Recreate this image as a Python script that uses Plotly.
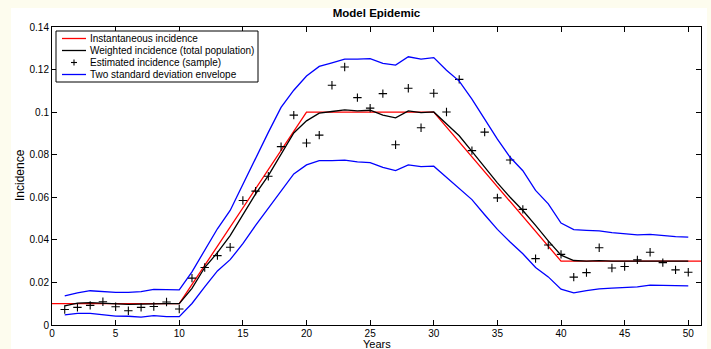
import plotly.graph_objects as go

years = list(range(1, 51))

inst_x = [0, 10, 20, 30, 40, 51]
inst_y = [0.01, 0.01, 0.10, 0.10, 0.03, 0.03]

weighted = [0.0090, 0.0103, 0.0105, 0.0102, 0.0098, 0.0097, 0.0098, 0.0100, 0.0100, 0.0100,
            0.0172, 0.0270, 0.0340, 0.0420, 0.0515, 0.0616, 0.0702, 0.0803, 0.0902, 0.0959,
            0.0995, 0.1003, 0.1011, 0.1006, 0.1009, 0.0986, 0.0973, 0.1006, 0.0998, 0.1001,
            0.0947, 0.0889, 0.0816, 0.0741, 0.0668, 0.0600, 0.0538, 0.0468, 0.0395, 0.0328,
            0.0303, 0.0300, 0.0302, 0.0300, 0.0300, 0.0301, 0.0302, 0.0300, 0.0300, 0.0300]

sample = [0.0073, 0.0083, 0.0092, 0.0109, 0.0086, 0.0067, 0.0083, 0.0087, 0.0108, 0.0075,
          0.0220, 0.0270, 0.0326, 0.0365, 0.0585, 0.0629, 0.0699, 0.0838, 0.0986, 0.0855,
          0.0892, 0.1126, 0.1212, 0.1068, 0.1019, 0.1087, 0.0847, 0.1112, 0.0927, 0.1089,
          0.1001, 0.1154, 0.0819, 0.0906, 0.0597, 0.0775, 0.0543, 0.0312, 0.0376, 0.0332,
          0.0225, 0.0246, 0.0363, 0.0268, 0.0275, 0.0306, 0.0342, 0.0293, 0.0259, 0.0248]

upper = [0.0137, 0.0151, 0.0161, 0.0157, 0.0153, 0.0153, 0.0157, 0.0167, 0.0167, 0.0165,
         0.0250, 0.0351, 0.0452, 0.0538, 0.0663, 0.0788, 0.0905, 0.1022, 0.1103, 0.1170,
         0.1215, 0.1232, 0.1249, 0.1249, 0.1251, 0.1229, 0.1221, 0.1260, 0.1249, 0.1256,
         0.1197, 0.1146, 0.1061, 0.0967, 0.0873, 0.0788, 0.0725, 0.0632, 0.0569, 0.0479,
         0.0448, 0.0445, 0.0442, 0.0434, 0.0429, 0.0423, 0.0426, 0.0420, 0.0415, 0.0413]

lower = [0.0048, 0.0055, 0.0055, 0.0047, 0.0042, 0.0041, 0.0037, 0.0044, 0.0039, 0.0039,
         0.0101, 0.0179, 0.0254, 0.0307, 0.0382, 0.0468, 0.0549, 0.0632, 0.0710, 0.0752,
         0.0772, 0.0772, 0.0775, 0.0766, 0.0763, 0.0741, 0.0725, 0.0752, 0.0744, 0.0746,
         0.0694, 0.0645, 0.0589, 0.0518, 0.0449, 0.0390, 0.0335, 0.0270, 0.0226, 0.0168,
         0.0151, 0.0161, 0.0170, 0.0173, 0.0176, 0.0179, 0.0187, 0.0186, 0.0184, 0.0184]

x_ticks = [0, 5, 10, 15, 20, 25, 30, 35, 40, 45, 50]
y_ticks = [0, 0.02, 0.04, 0.06, 0.08, 0.10, 0.12, 0.14]
y_tick_labels = ["0", "0.02", "0.04", "0.06", "0.08", "0.1", "0.12", "0.14"]

legend_names = ["Instantaneous incidence", "Weighted incidence (total population)",
                "Estimated incidence (sample)", "Two standard deviation envelope"]
legend_colors = ["#ff0000", "#000000", None, "#0000ff"]

FONT = "Liberation Sans, Arial, Helvetica, sans-serif"

W, H = 711, 349
ML, MR, MT, MB = 52, 10, 27, 24
PW, PH = W - ML - MR, H - MT - MB


def px_x(p):
    return (p - ML) / PW


def px_y(p):
    return (H - MB - p) / PH


fig = go.Figure()
fig.add_trace(go.Scatter(x=inst_x, y=inst_y, mode="lines", name=legend_names[0],
                         line=dict(color="#ff0000", width=1.3)))
fig.add_trace(go.Scatter(x=years, y=weighted, mode="lines", name=legend_names[1],
                         line=dict(color="#000000", width=1.3)))
fig.add_trace(go.Scatter(x=years, y=sample, mode="markers", name=legend_names[2],
                         marker=dict(symbol="cross-thin", size=6, color="#000000",
                                     line=dict(color="#000000", width=1.1))))
fig.add_trace(go.Scatter(x=years, y=upper, mode="lines", name=legend_names[3],
                         line=dict(color="#0000ff", width=1.3)))
fig.add_trace(go.Scatter(x=years, y=lower, mode="lines", name=legend_names[3],
                         line=dict(color="#0000ff", width=1.3)))

axis_common = dict(showline=True, linecolor="#000000", linewidth=1, mirror="ticks",
                   ticks="inside", ticklen=5, tickcolor="#000000", tickwidth=1,
                   showgrid=False, zeroline=False, automargin=False,
                   tickfont=dict(family=FONT, size=10, color="#000000"))

fig.update_xaxes(range=[0, 51], tickvals=x_ticks, ticklabelstandoff=-1, **axis_common)
fig.update_yaxes(range=[0, 0.14], tickvals=y_ticks, ticktext=y_tick_labels, **axis_common)

# white figure area
fig.add_shape(type="rect", xref="paper", yref="paper", x0=px_x(11), x1=px_x(707),
              y0=px_y(H + 5), y1=px_y(8), fillcolor="#ffffff", line=dict(width=0), layer="below")

# axis labels
fig.add_annotation(text="Years", xref="paper", yref="paper", x=px_x(377), y=px_y(344),
                   xanchor="center", yanchor="middle", showarrow=False,
                   font=dict(family=FONT, size=11, color="#000000"))
fig.add_annotation(text="Incidence", xref="paper", yref="paper", x=px_x(20), y=px_y(175),
                   xanchor="center", yanchor="middle", showarrow=False, textangle=-90,
                   font=dict(family=FONT, size=12, color="#000000"))

# legend box
fig.add_shape(type="rect", xref="paper", yref="paper", x0=px_x(56), x1=px_x(258),
              y0=px_y(82), y1=px_y(31), fillcolor="#ffffff",
              line=dict(color="#000000", width=1), layer="above")
row_y = [38.5, 50.5, 62.5, 74.5]
for name, col, ry in zip(legend_names, legend_colors, row_y):
    if col is not None:
        fig.add_shape(type="line", xref="paper", yref="paper", x0=px_x(62), x1=px_x(86),
                      y0=px_y(ry), y1=px_y(ry), line=dict(color=col, width=1.3), layer="above")
    else:
        fig.add_shape(type="line", xref="paper", yref="paper", x0=px_x(71), x1=px_x(77),
                      y0=px_y(ry), y1=px_y(ry), line=dict(color="#000000", width=1.1), layer="above")
        fig.add_shape(type="line", xref="paper", yref="paper", x0=px_x(74), x1=px_x(74),
                      y0=px_y(ry - 3), y1=px_y(ry + 3), line=dict(color="#000000", width=1.1), layer="above")
    fig.add_annotation(text=name, xref="paper", yref="paper", x=px_x(88), y=px_y(ry),
                       xanchor="left", yanchor="middle", showarrow=False,
                       font=dict(family=FONT, size=10, color="#000000"))

fig.update_layout(
    width=W, height=H,
    margin=dict(l=ML, r=MR, t=MT, b=MB, pad=0),
    paper_bgcolor="#fdfcee", plot_bgcolor="#ffffff",
    title=dict(text="<b>Model Epidemic</b>", x=0.5, xref="paper", xanchor="center",
               y=1 - 13 / H, yref="container", yanchor="middle",
               font=dict(family=FONT, size=11.5, color="#000000")),
    showlegend=False,
)

fig.write_html("out.html", config={"displayModeBar": False},
               post_script="document.body.style.margin='0';document.body.style.overflow='hidden';")
